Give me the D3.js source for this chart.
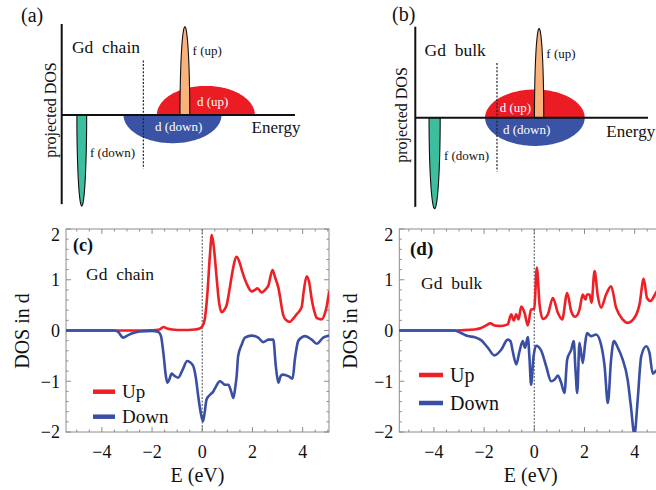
<!DOCTYPE html>
<html><head><meta charset="utf-8">
<script src="https://cdn.jsdelivr.net/npm/d3@7"></script>
<style>body{margin:0;background:#fff}svg{display:block}</style>
</head><body><svg id="chart" width="656" height="490"></svg>
<script>
// ---------- DATA ----------
// DOS in d (E in eV, DOS)
const chainUp = [[-5.45,0],[-3,0],[-2,0.005],[-1.7,0.02],[-1.55,0.07],[-1.4,0.04],[-1.2,0.02],[-0.8,0.01],[-0.3,0.02],[-0.1,0.04],[0,0.08],[0.1,0.22],[0.2,0.7],[0.3,1.45],[0.38,1.88],[0.47,1.6],[0.57,1.05],[0.67,0.55],[0.77,0.36],[0.87,0.4],[0.97,0.5],[1.1,0.85],[1.2,1.15],[1.37,1.45],[1.5,1.32],[1.6,1.15],[1.77,0.92],[1.97,0.77],[2.1,0.8],[2.2,0.83],[2.37,0.75],[2.5,0.8],[2.63,0.88],[2.8,1.19],[2.9,1.05],[3.03,0.85],[3.23,0.3],[3.35,0.2],[3.49,0.17],[3.6,0.22],[3.76,0.32],[3.96,0.46],[4.05,0.8],[4.16,1.07],[4.26,0.95],[4.36,0.62],[4.48,0.35],[4.56,0.25],[4.76,0.22],[4.9,0.36],[4.96,0.48],[5.06,0.78]];
const chainDown = [[-5.45,0],[-3.5,0],[-3.35,-0.03],[-3.15,-0.14],[-2.95,-0.09],[-2.75,-0.05],[-2.48,-0.02],[-2.0,-0.01],[-1.75,-0.03],[-1.65,-0.1],[-1.55,-0.44],[-1.45,-0.9],[-1.39,-1.03],[-1.3,-0.95],[-1.22,-0.85],[-1.09,-0.9],[-0.96,-0.93],[-0.78,-0.77],[-0.6,-0.6],[-0.5,-0.62],[-0.36,-0.7],[-0.25,-0.95],[-0.16,-1.3],[-0.05,-1.65],[0.03,-1.79],[0.1,-1.6],[0.17,-1.36],[0.3,-1.27],[0.44,-1.2],[0.55,-1.1],[0.7,-1.0],[0.8,-1.03],[0.9,-1.07],[1.04,-1.07],[1.15,-1.2],[1.24,-1.33],[1.32,-1.1],[1.37,-0.9],[1.43,-0.5],[1.57,-0.28],[1.7,-0.14],[1.97,-0.1],[2.23,-0.14],[2.43,-0.23],[2.55,-0.2],[2.63,-0.18],[2.83,-0.18],[2.93,-0.7],[3.03,-1.03],[3.12,-0.9],[3.2,-0.87],[3.43,-0.9],[3.6,-0.95],[3.69,-0.57],[3.82,-0.21],[3.95,-0.14],[4.09,-0.11],[4.36,-0.18],[4.56,-0.26],[4.82,-0.14],[5.06,-0.1]];
const bulkUp = [[-5.4,0],[-3.2,0],[-2.9,0.005],[-2.39,0.02],[-2.12,0.05],[-1.92,0.1],[-1.75,0.14],[-1.59,0.1],[-1.32,0.09],[-1.06,0.12],[-0.92,0.32],[-0.82,0.2],[-0.72,0.32],[-0.63,0.22],[-0.52,0.47],[-0.39,0.35],[-0.26,0.1],[-0.13,0.41],[0,0.43],[0.1,1.24],[0.21,0.51],[0.34,0.23],[0.54,0.32],[0.74,0.64],[0.94,0.35],[1.11,0.22],[1.31,0.74],[1.47,0.38],[1.63,0.27],[1.8,0.41],[1.93,0.71],[2.04,0.61],[2.1,0.71],[2.2,0.71],[2.28,0.55],[2.4,1.17],[2.53,0.68],[2.66,0.45],[2.86,0.71],[3.06,0.87],[3.26,0.45],[3.52,0.22],[3.72,0.15],[3.99,0.25],[4.19,0.51],[4.36,1.02],[4.49,0.64],[4.63,0.58],[4.84,0.74],[5.0,0.85]];
const bulkDown = [[-5.4,0],[-3.2,0],[-2.92,-0.05],[-2.65,-0.11],[-2.39,-0.13],[-2.12,-0.19],[-1.85,-0.34],[-1.59,-0.49],[-1.32,-0.38],[-1.06,-0.18],[-0.95,-0.21],[-0.86,-0.41],[-0.72,-0.67],[-0.59,-0.41],[-0.46,-0.21],[-0.37,-0.34],[-0.26,-0.13],[-0.19,-0.57],[-0.13,-1.07],[-0.03,-0.51],[0.07,-0.3],[0.27,-0.39],[0.47,-0.7],[0.67,-1.0],[0.8,-0.97],[0.94,-0.89],[1.07,-1.03],[1.2,-1.23],[1.31,-0.57],[1.47,-0.38],[1.57,-0.21],[1.64,-0.77],[1.71,-1.23],[1.8,-0.24],[1.93,-0.64],[2.03,-0.24],[2.1,-0.05],[2.26,-0.11],[2.46,-0.08],[2.66,-0.28],[2.8,-0.7],[2.93,-1.43],[3.06,-0.57],[3.17,-0.21],[3.33,-0.34],[3.52,-0.57],[3.72,-0.97],[3.85,-1.5],[3.99,-2.05],[4.12,-1.36],[4.26,-0.51],[4.46,-0.31],[4.59,-0.44],[4.72,-0.85],[4.84,-0.8],[5.0,-0.75]];
const xTicks = [-4,-2,0,2,4];
const yTicks = [-2,-1,0,1,2];
const seriesNames = ["Up","Down"];

// Schematic (a)/(b): [name, centre energy, half width, height] in arbitrary units
const chainShapes = [["dUp",6.18,2.1,0.32],["dDown",4.75,2.1,-0.31],["fUp",5.28,0.21,0.97],["fDown",0.86,0.21,-1.0]];
const bulkShapes  = [["dUp",5.14,2.14,0.31],["dDown",5.14,2.14,-0.31],["fUp",5.32,0.2,0.98],["fDown",0.83,0.24,-1.0]];
const fermiChain = 3.5, fermiBulk = 3.51;
const chainLabels = [["f (up)",5.61,0.71],["d (up)",5.8,0.146],["d (down)",4.0,-0.13],["f (down)",1.21,-0.41]];
const bulkLabels  = [["f (up)",5.63,0.71],["d (up)",3.63,0.114],["d (down)",3.77,-0.127],["f (down)",1.23,-0.41]];

// ---------- DRAW ----------
const svg = d3.select("#chart");
svg.append("rect").attr("width",656).attr("height",490).attr("fill","#fff");
const SERIF = "'Liberation Serif','Times New Roman',serif";
const RED = "#ee1f25", BLUE = "#3a4fa4";
const shapeFill = {dUp:"#ec1c24", dDown:"#3a53a4", fUp:"#f9b27c", fDown:"#3dbf9f"};
const labelColor = {"f (up)":"#111","d (up)":"#fff","d (down)":"#fff","f (down)":"#111"};

function schematic(cfg){
  const g = svg.append("g");
  const x = d3.scaleLinear().domain([0,10]).range(cfg.xr);
  const y = d3.scaleLinear().domain([-1,1]).range(cfg.yr);
  const halfEllipse = (c,w,h,n) => d3.range(n+1).map(i=>{const t=Math.PI*i/n;return [c+w*Math.cos(t), h*Math.sin(t)];});
  const line = d3.line().x(d=>x(d[0])).y(d=>y(d[1]));
  cfg.shapes.forEach(s=>{
    const isF = s[0].startsWith("f");
    g.append("path").attr("d", line(halfEllipse(s[1],s[2],s[3],isF?40:80))+"Z")
      .attr("fill",shapeFill[s[0]])
      .attr("stroke", isF?"#111":"none").attr("stroke-width",isF?1.1:0);
  });
  g.append("line").attr("x1",x(cfg.fermi)).attr("x2",x(cfg.fermi))
    .attr("y1",y(0.6)).attr("y2",y(-0.59))
    .attr("stroke","#222").attr("stroke-width",1.2).attr("stroke-dasharray","2,1.6");
  g.append("line").attr("x1",x(0)).attr("x2",x(0)).attr("y1",y(1.0)).attr("y2",y(-0.98))
    .attr("stroke","#111").attr("stroke-width",2);
  g.append("line").attr("x1",x(0)).attr("x2",x(10)).attr("y1",y(0)).attr("y2",y(0))
    .attr("stroke","#111").attr("stroke-width",2);
  cfg.labels.forEach(l=>{
    g.append("text").attr("x",x(l[1])).attr("y",y(l[2])).attr("dy","0.35em")
      .attr("font-family",SERIF).attr("font-size",13).attr("fill",labelColor[l[0]]).text(l[0]);
  });
  g.append("text").attr("x",x(cfg.energyAt[0])).attr("y",y(cfg.energyAt[1])).attr("dy","0.35em")
    .attr("font-family",SERIF).attr("font-size",17).attr("fill","#111").text("Energy");
  g.append("text").attr("x",x(cfg.titleAt[0])).attr("y",y(cfg.titleAt[1])).attr("dy","0.35em")
    .attr("font-family",SERIF).attr("font-size",17.5).attr("fill","#111")
    .style("white-space","pre").text(cfg.title);
  g.append("text").attr("transform",`translate(${x(cfg.dosAt[0])},${y(cfg.dosAt[1])}) rotate(-90)`)
    .attr("text-anchor","middle").attr("dy","0.35em")
    .attr("font-family",SERIF).attr("font-size",16).attr("fill","#111").text("projected DOS");
  g.append("text").attr("x",cfg.tagAt[0]).attr("y",cfg.tagAt[1]).attr("dy","0.35em")
    .attr("font-family",SERIF).attr("font-size",20).attr("fill","#111").text(cfg.tag);
}
schematic({xr:[61.7,295], yr:[206,24], shapes:chainShapes, fermi:fermiChain, labels:chainLabels,
  energyAt:[8.14,-0.13], titleAt:[0.44,0.75], dosAt:[-0.5,0.055], title:"Gd  chain", tag:"(a)", tagAt:[21,15]});
schematic({xr:[415.3,648], yr:[208.7,26.7], shapes:bulkShapes, fermi:fermiBulk, labels:bulkLabels,
  energyAt:[8.21,-0.143], titleAt:[0.4,0.744], dosAt:[-0.6,0.03], title:"Gd  bulk", tag:"(b)", tagAt:[392,14]});

function dosPanel(cfg, idx){
  const g = svg.append("g");
  const x = d3.scaleLinear().domain(cfg.xd).range(cfg.xr);
  const y = d3.scaleLinear().domain([-2,2]).range([432,229]);
  const [x0,x1] = cfg.xr, y0=229, y1=432;
  const FR = "#8c8c8c";
  const cid = "clip"+idx;
  svg.append("clipPath").attr("id",cid).append("rect").attr("x",x0).attr("y",y0).attr("width",x1-x0).attr("height",y1-y0);
  g.append("rect").attr("x",x0).attr("y",y0).attr("width",x1-x0).attr("height",y1-y0)
    .attr("fill","none").attr("stroke",FR).attr("stroke-width",1);
  d3.range(-5,5.01,0.5).forEach(v=>{
    const major = Math.abs(v%2)<1e-9, L = major?5:2.5;
    if (x(v)<x0||x(v)>x1) return;
    g.append("line").attr("x1",x(v)).attr("x2",x(v)).attr("y1",y1).attr("y2",y1-L).attr("stroke",FR);
    g.append("line").attr("x1",x(v)).attr("x2",x(v)).attr("y1",y0).attr("y2",y0+L).attr("stroke",FR);
  });
  d3.range(-2,2.001,0.2).forEach(v=>{
    const major = Math.abs(v-Math.round(v))<1e-6, L = major?5:2.5;
    g.append("line").attr("x1",x0).attr("x2",x0+L).attr("y1",y(v)).attr("y2",y(v)).attr("stroke",FR);
    g.append("line").attr("x1",x1).attr("x2",x1-L).attr("y1",y(v)).attr("y2",y(v)).attr("stroke",FR);
  });
  g.append("line").attr("x1",x(0)).attr("x2",x(0)).attr("y1",y0).attr("y2",y1)
    .attr("stroke","#777").attr("stroke-width",1.3).attr("stroke-dasharray","2,1.5");
  xTicks.forEach(v=>{
    g.append("text").attr("x",x(v)).attr("y",458).attr("text-anchor","middle")
      .attr("font-family",SERIF).attr("font-size",18).attr("fill","#111")
      .text(v<0?"\u2212"+Math.abs(v):String(v));
  });
  yTicks.forEach(v=>{
    const yy = Math.max(y(v), y0+6);
    g.append("text").attr("x",x0-6).attr("y",yy).attr("dy","0.35em").attr("text-anchor","end")
      .attr("font-family",SERIF).attr("font-size",18).attr("fill","#111")
      .text(v<0?"\u2212"+Math.abs(v):String(v));
  });
  g.append("text").attr("x",(x0+x1)/2).attr("y",482).attr("text-anchor","middle")
    .attr("font-family",SERIF).attr("font-size",20).attr("fill","#111").text("E (eV)");
  g.append("text").attr("transform",`translate(${cfg.yTitleX},331) rotate(-90)`).attr("text-anchor","middle")
    .attr("dy","0.35em").attr("font-family",SERIF).attr("font-size",20).attr("fill","#111").text("DOS in d");
  const line = d3.line().x(d=>x(d[0])).y(d=>y(d[1])).curve(d3.curveMonotoneX);
  const cg = g.append("g").attr("clip-path",`url(#${cid})`);
  cg.append("path").datum(cfg.up).attr("d",line).attr("fill","none").attr("stroke",RED).attr("stroke-width",2.6).attr("stroke-linejoin","round");
  cg.append("path").datum(cfg.down).attr("d",line).attr("fill","none").attr("stroke",BLUE).attr("stroke-width",2.6).attr("stroke-linejoin","round");
  g.append("text").attr("x",cfg.tagAt[0]).attr("y",cfg.tagAt[1]).attr("dy","0.35em")
    .attr("font-family",SERIF).attr("font-weight","bold").attr("font-size",cfg.tagSize).attr("fill","#111").text(cfg.tag);
  g.append("text").attr("x",cfg.titleAt[0]).attr("y",cfg.titleAt[1]).attr("dy","0.35em")
    .attr("font-family",SERIF).attr("font-size",17.5).attr("fill","#111").style("white-space","pre").text(cfg.title);
  [RED,BLUE].forEach((c,i)=>{
    const ly = cfg.legY[i];
    g.append("line").attr("x1",cfg.legX[0]).attr("x2",cfg.legX[1]).attr("y1",ly).attr("y2",ly)
      .attr("stroke",c).attr("stroke-width",4.5);
    g.append("text").attr("x",cfg.legX[1]+7).attr("y",ly).attr("dy","0.35em")
      .attr("font-family",SERIF).attr("font-size",cfg.legSize).attr("fill","#111").text(seriesNames[i]);
  });
}
dosPanel({xd:[-5.43,5.05], xr:[66,329], up:chainUp, down:chainDown, yTitleX:22,
  tag:"(c)", tagAt:[73,245], tagSize:18, title:"Gd  chain", titleAt:[86,274],
  legX:[93,115], legY:[391.7,416.7], legSize:19}, 0);
dosPanel({xd:[-5.38,5.1], xr:[399.3,662.3], up:bulkUp, down:bulkDown, yTitleX:349.5,
  tag:"(d)", tagAt:[410,248], tagSize:19, title:"Gd  bulk", titleAt:[421,283],
  legX:[419,443], legY:[375,403], legSize:20}, 1);
</script></body></html>
